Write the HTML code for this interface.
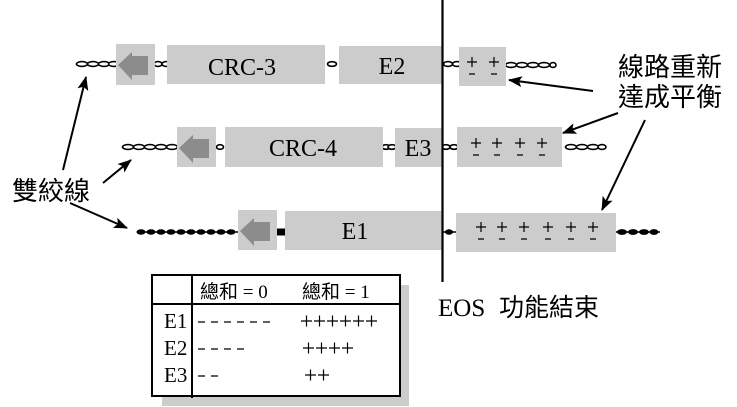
<!DOCTYPE html>
<html><head><meta charset="utf-8"><style>
html,body{margin:0;padding:0;background:#fff;width:737px;height:407px;overflow:hidden}
svg{display:block}
.s{font-family:"Liberation Serif","Noto Sans CJK TC",serif}
.c{font-family:"Liberation Serif","Noto Sans CJK TC",sans-serif}
</style></head><body>
<svg width="737" height="407" viewBox="0 0 737 407" xmlns="http://www.w3.org/2000/svg">
<defs>
<marker id="ah" markerUnits="userSpaceOnUse" markerWidth="16" markerHeight="12" refX="13" refY="6" orient="auto">
<path d="M0,0.5 L14,6 L0,11.5 L3,6 z" fill="#000"/>
</marker>
</defs>

<!-- chains row1 -->
<g fill="#fff" stroke="#000" stroke-width="1.6">
<ellipse cx="82" cy="64" rx="5.5" ry="2.4"/><ellipse cx="93" cy="64" rx="5.5" ry="2.4"/><ellipse cx="104" cy="64" rx="5.5" ry="2.4"/><ellipse cx="114" cy="64" rx="5.5" ry="2.4"/>
<ellipse cx="158" cy="64" rx="4" ry="2.4"/><ellipse cx="166" cy="64" rx="4" ry="2.4"/>
<ellipse cx="332" cy="64" rx="4.5" ry="2.3"/>
<ellipse cx="448" cy="64" rx="4.5" ry="2.4"/><ellipse cx="457" cy="64" rx="4.5" ry="2.4"/>
<ellipse cx="511" cy="65" rx="5.5" ry="2.4"/><ellipse cx="522" cy="65" rx="5.5" ry="2.4"/><ellipse cx="533" cy="65" rx="5.5" ry="2.4"/><ellipse cx="544" cy="65" rx="5.5" ry="2.4"/><ellipse cx="553" cy="65" rx="3" ry="2.4"/>
</g>
<!-- chains row2 -->
<g fill="#fff" stroke="#000" stroke-width="1.6">
<ellipse cx="128" cy="147" rx="5.5" ry="2.4"/><ellipse cx="139" cy="147" rx="5.5" ry="2.4"/><ellipse cx="150" cy="147" rx="5.5" ry="2.4"/><ellipse cx="161" cy="147" rx="5.5" ry="2.4"/><ellipse cx="172" cy="147" rx="5.5" ry="2.4"/>
<ellipse cx="220" cy="147" rx="3.5" ry="2.3"/>
<ellipse cx="386" cy="147" rx="4" ry="2.3"/><ellipse cx="392" cy="147" rx="4" ry="2.3"/>
<ellipse cx="446" cy="147" rx="4" ry="2.3"/><ellipse cx="454" cy="147" rx="4" ry="2.3"/>
<ellipse cx="571" cy="147" rx="5.5" ry="2.4"/><ellipse cx="582" cy="147" rx="5.5" ry="2.4"/><ellipse cx="593" cy="147" rx="5.5" ry="2.4"/><ellipse cx="602" cy="147" rx="4" ry="2.4"/>
</g>
<!-- chains row3 -->
<g fill="#000" stroke="#000" stroke-width="1">
<line x1="137" y1="232" x2="238" y2="232" stroke-width="1.5"/>
<ellipse cx="141" cy="232" rx="4" ry="2.3"/><ellipse cx="151" cy="232" rx="4" ry="2.3"/><ellipse cx="161" cy="232" rx="4" ry="2.3"/><ellipse cx="171" cy="232" rx="4" ry="2.3"/><ellipse cx="181" cy="232" rx="4" ry="2.3"/><ellipse cx="191" cy="232" rx="4" ry="2.3"/><ellipse cx="201" cy="232" rx="4" ry="2.3"/><ellipse cx="211" cy="232" rx="4" ry="2.3"/><ellipse cx="221" cy="232" rx="4" ry="2.3"/><ellipse cx="231" cy="232" rx="4" ry="2.3"/>
<rect x="277" y="229" width="8" height="6"/>
<line x1="443" y1="232" x2="457" y2="232" stroke-width="1.5"/><ellipse cx="449" cy="232" rx="3.5" ry="2.3"/>
<line x1="616" y1="232" x2="660" y2="232" stroke-width="1.5"/>
<ellipse cx="622" cy="232" rx="4.5" ry="2.4"/><ellipse cx="633" cy="232" rx="4.5" ry="2.4"/><ellipse cx="644" cy="232" rx="4.5" ry="2.4"/><ellipse cx="654" cy="232" rx="4" ry="2.4"/>
</g>

<!-- boxes -->
<g fill="#cccccc">
<rect x="116" y="44" width="39" height="41"/>
<rect x="167" y="45" width="158" height="39"/>
<rect x="339" y="46" width="104" height="38"/>
<rect x="459" y="47" width="47" height="39"/>
<rect x="177" y="127" width="39" height="40"/>
<rect x="225" y="127" width="158" height="40"/>
<rect x="395" y="128" width="47" height="39"/>
<rect x="457" y="127" width="105" height="40"/>
<rect x="238" y="210" width="39" height="40"/>
<rect x="285" y="211" width="158" height="39"/>
<rect x="456" y="213" width="160" height="39"/>
</g>
<!-- gray arrows -->
<g fill="#8c8c8c">
<path d="M118,65 L132,52 L132,56 L148,56 L148,75 L132,75 L132,80 z"/>
<path d="M179,148 L193,135 L193,139 L209,139 L209,158 L193,158 L193,163 z"/>
<path d="M240,231 L254,218 L254,222 L270,222 L270,241 L254,241 L254,246 z"/>
</g>

<!-- box text -->
<g class="s" font-size="24" text-anchor="middle" fill="#000">
<text x="242" y="75">CRC-3</text>
<text x="392" y="74">E2</text>
<text x="303" y="156">CRC-4</text>
<text x="418" y="156">E3</text>
<text x="355" y="239">E1</text>
</g>

<!-- plus/minus -->
<g stroke="#000" stroke-width="1.2">
<path d="M467,62 h10 M472,57 v10 M469,74 h6"/>
<path d="M489,62 h10 M494,57 v10 M491,74 h6"/>
<path d="M471,143 h10 M476,138 v10 M473,155 h6"/>
<path d="M492,143 h10 M497,138 v10 M494,155 h6"/>
<path d="M515,143 h10 M520,138 v10 M517,155 h6"/>
<path d="M537,143 h10 M542,138 v10 M539,155 h6"/>
<path d="M476,227 h10 M481,222 v10 M478,239 h6"/>
<path d="M497,227 h10 M502,222 v10 M499,239 h6"/>
<path d="M519,227 h10 M524,222 v10 M521,239 h6"/>
<path d="M543,227 h10 M548,222 v10 M545,239 h6"/>
<path d="M566,227 h10 M571,222 v10 M568,239 h6"/>
<path d="M588,227 h10 M593,222 v10 M590,239 h6"/>
</g>

<!-- vertical EOS line -->
<line x1="442.5" y1="0" x2="442.5" y2="282" stroke="#000" stroke-width="2.2"/>

<!-- annotation arrows -->
<g stroke="#000" stroke-width="2" marker-end="url(#ah)">
<line x1="63" y1="170" x2="86" y2="77"/>
<line x1="103" y1="183" x2="131" y2="160"/>
<line x1="70" y1="203" x2="127" y2="228"/>
<line x1="593" y1="91" x2="509" y2="80"/>
<line x1="618" y1="113" x2="563" y2="133"/>
<line x1="645" y1="120" x2="602" y2="210"/>
</g>

<!-- labels -->
<g class="c" font-size="26" fill="#000">
<text x="12" y="200">雙絞線</text>
<text x="618" y="76">線路重新</text>
<text x="618" y="106">達成平衡</text>
</g>
<text class="s" x="438" y="316" font-size="25">EOS</text>
<text class="c" x="499" y="316" font-size="25">功能結束</text>

<!-- table -->
<rect x="162" y="285" width="247" height="121" fill="#cccccc"/>
<rect x="152" y="275" width="248" height="121" fill="#fff" stroke="#000" stroke-width="2"/>
<line x1="152" y1="304" x2="400" y2="304" stroke="#000" stroke-width="2"/>
<line x1="192" y1="275" x2="192" y2="398" stroke="#000" stroke-width="2"/>
<g class="s" font-size="19" fill="#000">
<text x="200" y="298">總和 = 0</text>
<text x="302" y="298">總和 = 1</text>
</g>
<g class="s" font-size="21" fill="#000">
<text x="164" y="328">E1</text>
<text x="164" y="355">E2</text>
<text x="164" y="382">E3</text>
</g>
<!-- dashes -->
<g stroke="#000" stroke-width="1.2">
<path d="M198,322 h7 M211,322 h7 M224,322 h7 M237,322 h7 M250,322 h7 M263,322 h7"/>
<path d="M198,349 h7 M211,349 h7 M224,349 h7 M237,349 h7"/>
<path d="M198,376 h7 M211,376 h7"/>
</g>
<!-- pluses -->
<g stroke="#000" stroke-width="1.2">
<path d="M301,321 h11 M306.5,315.5 v11 M314,321 h11 M319.5,315.5 v11 M327,321 h11 M332.5,315.5 v11 M340,321 h11 M345.5,315.5 v11 M353,321 h11 M358.5,315.5 v11 M366,321 h11 M371.5,315.5 v11"/>
<path d="M303,348 h11 M308.5,342.5 v11 M316,348 h11 M321.5,342.5 v11 M329,348 h11 M334.5,342.5 v11 M342,348 h11 M347.5,342.5 v11"/>
<path d="M305,375 h11 M310.5,369.5 v11 M318,375 h11 M323.5,369.5 v11"/>
</g>
</svg>
</body></html>
